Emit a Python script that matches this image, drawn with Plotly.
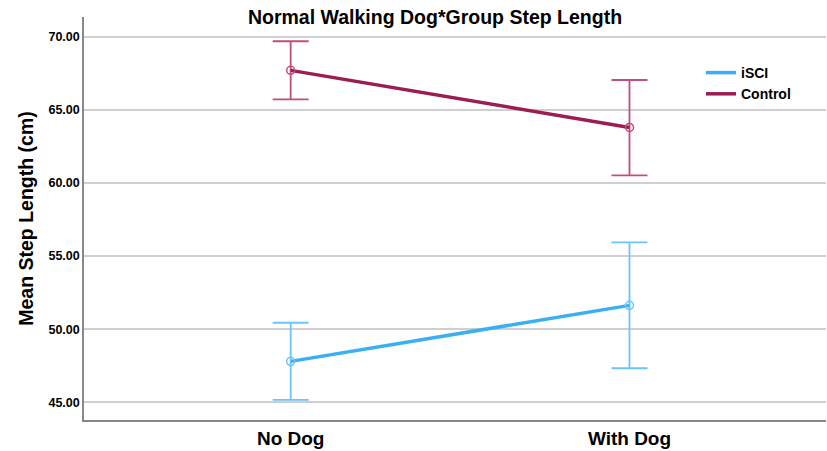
import plotly.graph_objects as go

categories = ["No Dog", "With Dog"]
groups = ["iSCI", "Control"]
isci_mean = [47.80, 51.63]
isci_upper = [50.44, 55.94]
isci_lower = [45.16, 47.33]
control_mean = [67.70, 63.80]
control_upper = [69.69, 67.04]
control_lower = [65.72, 60.52]
y_ticks = [45, 50, 55, 60, 65, 70]

line_colors = {"iSCI": "#3AAFF4", "Control": "#9C1D52"}
err_colors = {"iSCI": "#6CC4FB", "Control": "#C04F7E"}

series = {
    "iSCI": (isci_mean, isci_upper, isci_lower),
    "Control": (control_mean, control_upper, control_lower),
}

xpos = list(range(len(categories)))
fig = go.Figure()
for g in groups:
    m, up, lo = series[g]
    fig.add_trace(go.Scatter(
        x=xpos, y=m, mode="lines+markers", showlegend=False,
        line=dict(color=line_colors[g], width=3.5),
        marker=dict(symbol="circle-open", size=8, color=err_colors[g], line=dict(width=1.5)),
        error_y=dict(type="data", symmetric=False,
                     array=[u - v for u, v in zip(up, m)],
                     arrayminus=[v - l for v, l in zip(m, lo)],
                     color=err_colors[g], thickness=1.8, width=18),
    ))
for g in groups:
    fig.add_trace(go.Scatter(x=[None], y=[None], mode="lines", name="<b>%s</b>" % g,
                             line=dict(color=line_colors[g], width=3.5)))

font_family = "Liberation Sans, Arial, sans-serif"
fig.update_layout(
    width=827, height=451,
    margin=dict(l=84, r=1, t=17, b=31, autoexpand=False),
    paper_bgcolor="white", plot_bgcolor="white",
    font=dict(family=font_family, color="black"),
    title=dict(text="<b>Normal Walking Dog*Group Step Length</b>",
               x=435 / 827, xref="container", xanchor="center",
               y=1 - 17 / 451, yref="container", yanchor="middle",
               font=dict(size=19.5, family=font_family, color="black")),
    showlegend=True,
    legend=dict(x=(701 - 84) / 742, xanchor="left", y=(420 - 57) / 403,
                yanchor="top", bgcolor="rgba(0,0,0,0)",
                font=dict(size=14, family=font_family, color="black"),
                itemwidth=30, tracegroupgap=0),
    xaxis=dict(range=[-0.61, 1.58], tickvals=xpos, ticktext=["<b>%s</b>" % c for c in categories],
               tickfont=dict(size=19), showgrid=False, zeroline=False, automargin=False,
               showline=True, linecolor="#888888", linewidth=1.5, ticks=""),
    yaxis=dict(range=[43.79, 71.35], tickvals=y_ticks,
               ticktext=["<b>%.2f</b>" % v for v in y_ticks], automargin=False,
               tickfont=dict(size=12.5), showgrid=True, gridcolor="#cfcfcf", gridwidth=1.5,
               zeroline=False, showline=True, linecolor="#888888", linewidth=1.5, ticks="",
               title=dict(text="<b>Mean Step Length (cm)</b>", font=dict(size=19.5), standoff=10)),
)
fig.write_html("out.html", config={"displayModeBar": False},
               post_script="document.body.style.margin='0';document.body.style.overflow='hidden';")
